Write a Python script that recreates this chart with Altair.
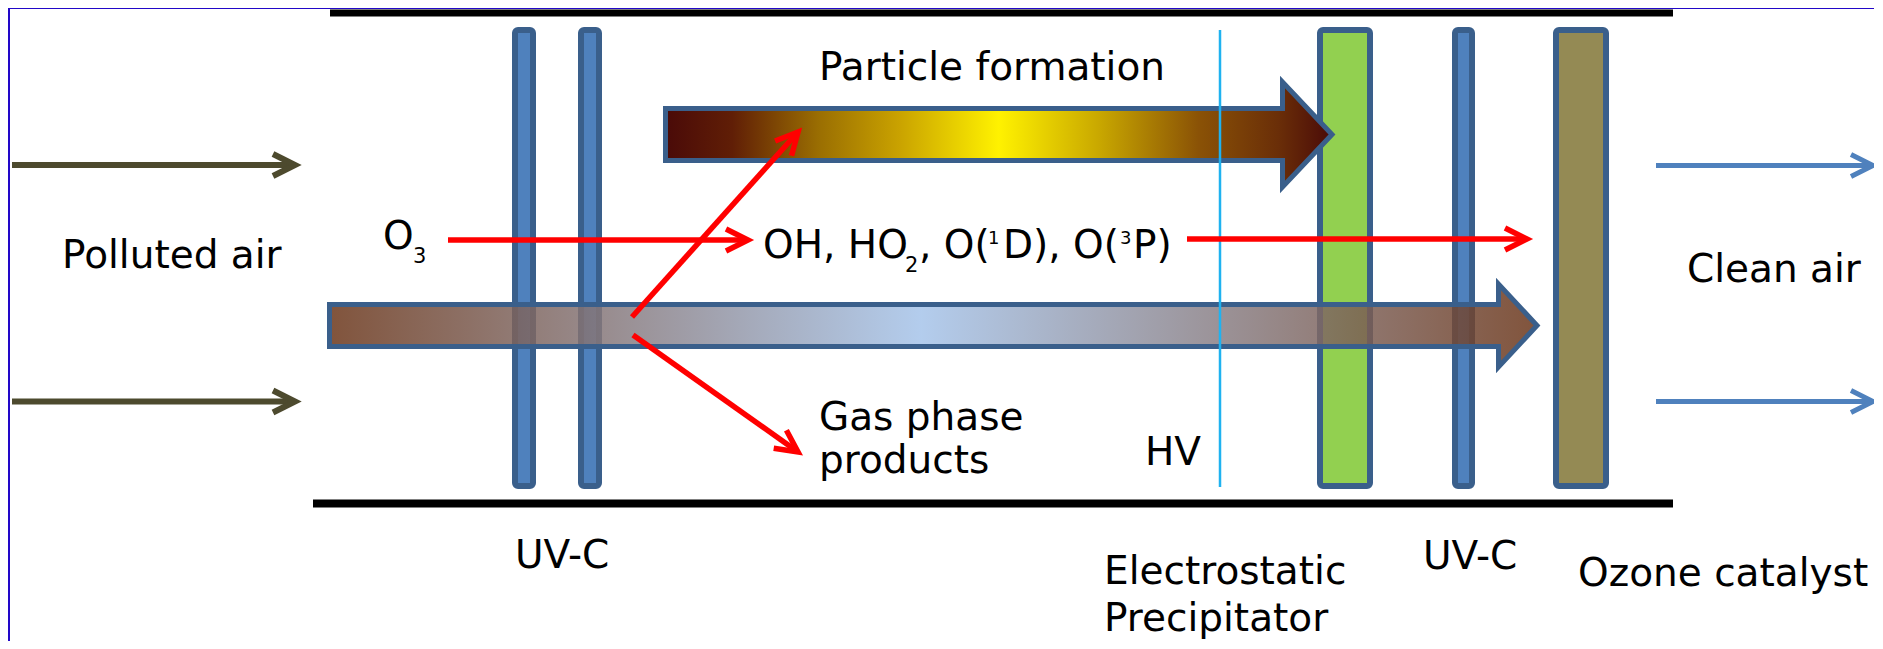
import math
import altair as alt
import pandas as pd

# ---------------- canvas (page pixels are used as data coordinates) ----------------
W, H = 1866, 633
X0, Y0 = 8, 8

# ---------------- data ----------------
frame_x = [10, 1874]
frame_y = [9, 641]

wall_x1 = [330, 313]
wall_x2 = [1673, 1673]
wall_y1 = [9.5, 499.5]
wall_y2 = [16.5, 507.5]

panel_names = ["UV-C lamp 1", "UV-C lamp 2", "Electrostatic precipitator", "UV-C lamp 3", "Ozone catalyst"]
panel_left = [512, 578, 1317, 1452, 1553]
panel_right = [536, 602, 1373, 1475, 1609]
panel_top = [27, 27, 27, 27, 27]
panel_bottom = [489, 489, 489, 489, 489]
panel_fill = ["#4f81bd", "#4f81bd", "#92d050", "#4f81bd", "#948a54"]

flow_names = ["Air stream", "Particle formation"]
flow_start = [329.5, 665.5]
flow_headbase = [1498.5, 1282.5]
flow_tip = [1537.0, 1332.0]
flow_center = [325.5, 134.5]
flow_half = [21.0, 26.0]
flow_head_half = [41.5, 52.5]

hv_x = [1220, 1220]
hv_y = [30, 487]

arrow_names = ["in top", "in bottom", "out top", "out bottom", "O3", "radicals", "to particles", "to gas"]
arrow_x0 = [12, 12, 1656, 1656, 448, 1187, 632, 633]
arrow_y0 = [165, 401.5, 165.5, 401.5, 240, 239, 317, 335]
arrow_x1 = [295, 295, 1873, 1873, 748, 1527, 798, 798]
arrow_y1 = [165, 401.5, 165.5, 401.5, 240, 239, 132, 452]
arrow_color = ["#4d4a2e", "#4d4a2e", "#4f81bd", "#4f81bd", "#ff0000", "#ff0000", "#ff0000", "#ff0000"]
arrow_width = [6, 6, 5, 5, 5.5, 5.5, 5.5, 5.5]

labels = ["Polluted air", "O", "3", "Particle formation",
          "OH, HO", "2", ", O(", "1", "D), O(", "3", "P)",
          "Gas phase", "products", "HV", "Clean air", "UV-C",
          "Electrostatic", "Precipitator", "UV-C", "Ozone catalyst"]
label_x = [62, 383, 413, 819,
           763, 905, 919, 988, 1003, 1120, 1133,
           819, 819, 1145, 1687, 515,
           1104, 1104, 1423, 1578]
label_y = [268, 249, 263, 80,
           258, 272, 258, 244, 258, 244, 258,
           430, 473, 465, 282, 568,
           584, 631, 569, 586]
label_size = [39, 39, 21, 39,
              39, 21, 39, 18, 39, 18, 39,
              39, 39, 39, 39, 39,
              39, 39, 39, 39]

EDGE = "#3a5f8b"

# ---------------- tables ----------------
xs = alt.Scale(domain=[X0, X0 + W], range=[0, W], nice=False, zero=False)
ys = alt.Scale(domain=[Y0, Y0 + H], range=[0, H], nice=False, zero=False)

df_frame = pd.DataFrame({"x1": [frame_x[0]], "x2": [frame_x[1]], "y1": [frame_y[0]], "y2": [frame_y[1]]})
df_wall = pd.DataFrame({"x1": wall_x1, "x2": wall_x2, "y1": wall_y1, "y2": wall_y2})
df_panel = pd.DataFrame({
    "name": panel_names,
    "x1": [v + 3 for v in panel_left], "x2": [v - 3 for v in panel_right],
    "y1": [v + 3 for v in panel_top], "y2": [v - 3 for v in panel_bottom],
    "fill": panel_fill,
})

area_rows = []
for i, n in enumerate(flow_names):
    c, h, hh = flow_center[i], flow_half[i], flow_head_half[i]
    area_rows += [
        {"flow": n, "x": flow_start[i], "yt": c - h, "yb": c + h},
        {"flow": n, "x": flow_headbase[i], "yt": c - h, "yb": c + h},
        {"flow": n, "x": flow_headbase[i] + 0.01, "yt": c - hh, "yb": c + hh},
        {"flow": n, "x": flow_tip[i], "yt": c, "yb": c},
    ]
df_area = pd.DataFrame(area_rows)

line_rows = []
HEAD_L, HEAD_W = 22.0, 11.0
for i, n in enumerate(arrow_names):
    x0, y0, x1, y1 = arrow_x0[i], arrow_y0[i], arrow_x1[i], arrow_y1[i]
    L = math.hypot(x1 - x0, y1 - y0)
    dx, dy = (x1 - x0) / L, (y1 - y0) / L
    nx, ny = -dy, dx
    col, w = arrow_color[i], arrow_width[i]
    line_rows.append({"g": n + "_s", "o": 0, "x": x0, "y": y0, "c": col, "w": w})
    line_rows.append({"g": n + "_s", "o": 1, "x": x1 - 3 * dx, "y": y1 - 3 * dy, "c": col, "w": w})
    bx, by = x1 - HEAD_L * dx, y1 - HEAD_L * dy
    line_rows.append({"g": n + "_h", "o": 0, "x": bx + HEAD_W * nx, "y": by + HEAD_W * ny, "c": col, "w": w})
    line_rows.append({"g": n + "_h", "o": 1, "x": x1, "y": y1, "c": col, "w": w})
    line_rows.append({"g": n + "_h", "o": 2, "x": bx - HEAD_W * nx, "y": by - HEAD_W * ny, "c": col, "w": w})
df_lines = pd.DataFrame(line_rows)

df_hv = pd.DataFrame({"x": hv_x, "y": hv_y, "o": [0, 1]})
df_text = pd.DataFrame({"label": labels, "x": label_x, "y": label_y, "s": label_size})

# ---------------- layers ----------------
def rect_enc(ch):
    return ch.encode(
        x=alt.X("x1:Q", scale=xs, axis=None), x2="x2:Q",
        y=alt.Y("y1:Q", scale=ys, axis=None), y2="y2:Q",
    )

frame = rect_enc(alt.Chart(df_frame).mark_rect(color="white"))
walls = rect_enc(alt.Chart(df_wall).mark_rect(color="#000000"))
panels = alt.Chart(df_panel).mark_rect(stroke=EDGE, strokeWidth=6, cornerRadius=3).encode(
    x=alt.X("x1:Q", scale=xs, axis=None), x2="x2:Q",
    y=alt.Y("y1:Q", scale=ys, axis=None), y2="y2:Q",
    fill=alt.Fill("fill:N", scale=None),
)

grad_air = {
    "gradient": "linear", "x1": 0, "y1": 0, "x2": 1, "y2": 0,
    "stops": [
        {"offset": 0, "color": "#6b361a"},
        {"offset": 0.49, "color": "#a6c4ea"},
        {"offset": 1, "color": "#6b361a"},
    ],
}
grad_part = {
    "gradient": "linear", "x1": 0, "y1": 0, "x2": 1, "y2": 0,
    "stops": [
        {"offset": 0, "color": "#4a0a08"},
        {"offset": 0.1, "color": "#601e06"},
        {"offset": 0.23, "color": "#9a6e02"},
        {"offset": 0.35, "color": "#c9a200"},
        {"offset": 0.5, "color": "#fff200"},
        {"offset": 0.65, "color": "#c9a800"},
        {"offset": 0.8, "color": "#8a5206"},
        {"offset": 0.92, "color": "#6a2e08"},
        {"offset": 1, "color": "#4a0a08"},
    ],
}

def flow_layer(name, grad, fop):
    return alt.Chart(df_area[df_area["flow"] == name]).mark_area(
        fill=grad, stroke=EDGE, strokeWidth=5, fillOpacity=fop, strokeJoin="miter"
    ).encode(
        x=alt.X("x:Q", scale=xs, axis=None),
        y=alt.Y("yt:Q", scale=ys, axis=None), y2="yb:Q",
    )

air = flow_layer("Air stream", grad_air, 0.85)
part = flow_layer("Particle formation", grad_part, 1.0)

hv = alt.Chart(df_hv).mark_line(color="#1fb2f0", strokeWidth=2.5).encode(
    x=alt.X("x:Q", scale=xs, axis=None), y=alt.Y("y:Q", scale=ys, axis=None), order="o:Q"
)

lines = alt.Chart(df_lines).mark_line(strokeJoin="miter", strokeCap="butt").encode(
    x=alt.X("x:Q", scale=xs, axis=None),
    y=alt.Y("y:Q", scale=ys, axis=None),
    detail="g:N",
    order="o:Q",
    color=alt.Color("c:N", scale=None),
    strokeWidth=alt.StrokeWidth("w:Q", scale=None),
)

texts = alt.Chart(df_text).mark_text(
    font="DejaVu Sans", align="left", baseline="alphabetic", color="#000000"
).encode(
    x=alt.X("x:Q", scale=xs, axis=None),
    y=alt.Y("y:Q", scale=ys, axis=None),
    text="label:N",
    size=alt.Size("s:Q", scale=None),
)

chart = alt.layer(frame, walls, panels, air, part, hv, lines, texts).properties(
    width=W, height=H, padding=0, background="#2208c8",
    autosize=alt.AutoSizeParams(type="none"),
).configure_view(strokeWidth=0)

chart.save("out.html", embed_options={"renderer": "svg", "actions": False})
